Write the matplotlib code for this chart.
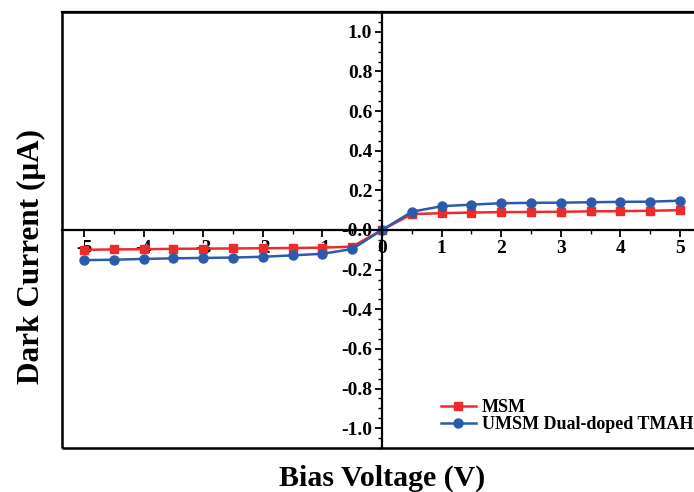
import numpy as np
import matplotlib.pyplot as plt
from matplotlib.patches import Rectangle
from matplotlib.ticker import MultipleLocator

plt.rcParams['font.family'] = 'Liberation Serif'
plt.rcParams['font.weight'] = 'bold'

# Bias sweep and measured dark current (uA)
voltage = [-5, -4.5, -4, -3.5, -3, -2.5, -2, -1.5, -1, -0.5, 0,
           0.5, 1, 1.5, 2, 2.5, 3, 3.5, 4, 4.5, 5]
msm = [-0.100, -0.098, -0.097, -0.095, -0.094, -0.093, -0.092, -0.091, -0.089, -0.084, 0.0,
       0.080, 0.085, 0.088, 0.090, 0.091, 0.092, 0.094, 0.095, 0.097, 0.100]
umsm = [-0.152, -0.150, -0.146, -0.143, -0.141, -0.139, -0.135, -0.128, -0.120, -0.096, 0.0,
        0.092, 0.120, 0.128, 0.135, 0.137, 0.138, 0.140, 0.142, 0.143, 0.148]

fig = plt.figure(figsize=(6.94, 4.92), dpi=100)
ax = fig.add_axes([62 / 694, 1 - 448 / 492, 640 / 694, 436 / 492])

ax.plot(voltage, msm, color='#ee2b2b', lw=1.8, marker='s', ms=5.5, label='MSM')
ax.plot(voltage, umsm, color='#2b5cab', lw=1.8, marker='o', ms=6.5,
        label='UMSM Dual-doped TMAH')

ax.set_xlim(-5.37, 5.37)
ax.set_ylim(-1.1, 1.1)

# axes crossing at the origin, with a closed frame around the plot
ax.spines['left'].set_position(('data', 0))
ax.spines['bottom'].set_position(('data', 0))
for s in ax.spines.values():
    s.set_linewidth(1.6)
ax.add_patch(Rectangle((0, 0), 1, 1, transform=ax.transAxes, fill=False,
                       lw=1.8, clip_on=False, zorder=5))

ax.xaxis.set_minor_locator(MultipleLocator(0.5))
ax.yaxis.set_minor_locator(MultipleLocator(0.05))
yticks = np.arange(-1.0, 1.01, 0.2)
ax.set_yticks(yticks)
ax.set_yticklabels([f'{v:.1f}' for v in yticks])
ax.set_xticks(range(-5, 6))
ax.set_xticklabels([str(v) for v in range(-5, 6)])

ax.tick_params(which='major', direction='out', length=5, width=1.3, labelsize=14, pad=2)
ax.tick_params(which='minor', direction='out', length=3, width=1.0)
for lab in ax.get_xticklabels() + ax.get_yticklabels():
    lab.set_fontweight('bold')

fig.text(382 / 694, 1 - 486 / 492, 'Bias Voltage (V)', ha='center', va='baseline',
         fontsize=21.5, fontweight='bold')
fig.text(31 / 694, 1 - 257 / 492, 'Dark Current (\u03bcA)', ha='center', va='center',
         rotation=90, fontsize=22.5, fontweight='bold')

ax.legend(loc='lower right', frameon=False, prop={'size': 13, 'weight': 'bold'},
          handlelength=1.95, handletextpad=0.3, labelspacing=0.0,
          borderpad=0, borderaxespad=0,
          bbox_to_anchor=(693 / 694, 1 - 433 / 492), bbox_transform=fig.transFigure)

fig.savefig('out.png', dpi=100)
